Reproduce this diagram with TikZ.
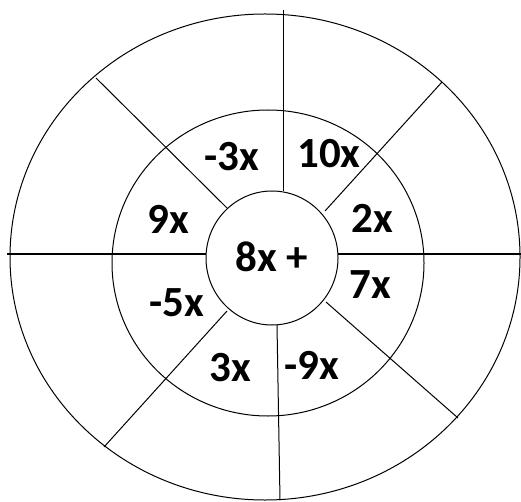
\documentclass[tikz,border=0pt]{standalone}
\usepackage{fontspec}
\setmainfont{Carlito}
\usetikzlibrary{positioning}

\begin{document}
\begin{tikzpicture}[x=1pt,y=-1pt,
  trait/.style={line width=1pt},
  terme/.style={font=\fontsize{43}{43}\selectfont\bfseries,inner sep=0pt}
]
\useasboundingbox (0,0) rectangle (521,502);
% anneaux
\draw[trait] (265,257) ellipse [x radius=255pt,y radius=243pt];
\draw[trait] (268,263) ellipse [x radius=156pt,y radius=153pt];
\draw[trait] (272,258) ellipse [x radius=66pt,y radius=67pt];
% rayons
\coordinate (h1) at (283,10);  \coordinate (h2) at (283,191);
\coordinate (b1) at (277,325); \coordinate (b2) at (280,500);
\coordinate (g1) at (7,254);   \coordinate (g2) at (206,254);
\coordinate (d1) at (338,254); \coordinate (d2) at (521,254);
\coordinate (hg1) at (96,78);   \coordinate (hg2) at (227,208);
\coordinate (hd1) at (442,82);  \coordinate (hd2) at (325,211);
\coordinate (bd1) at (326,302); \coordinate (bd2) at (458,418);
\coordinate (bg1) at (227,311); \coordinate (bg2) at (104,447);
\draw[trait] (h1)--(h2);
\draw[trait] (b1)--(b2);
\draw[trait] (g1)--(g2);
\draw[trait] (d1)--(d2);
\draw[trait] (hg1)--(hg2);
\draw[trait] (hd1)--(hd2);
\draw[trait] (bd1)--(bd2);
\draw[trait] (bg1)--(bg2);
% termes
\node[terme] (centre) at (272,257) {8x +};
\node[terme] (t1) at (232,157) {-3x};
\node[terme] (t2) at (329,154) {10x};
\node[terme] (t3) at (168,219) {9x};
\node[terme] (t4) at (372,218) {2x};
\node[terme] (t5) at (370,285) {7x};
\node[terme] (t6) at (177,303) {-5x};
\node[terme] (t7) at (230,368) {3x};
\node[terme] (t8) at (312,365) {-9x};
\end{tikzpicture}
\end{document}
